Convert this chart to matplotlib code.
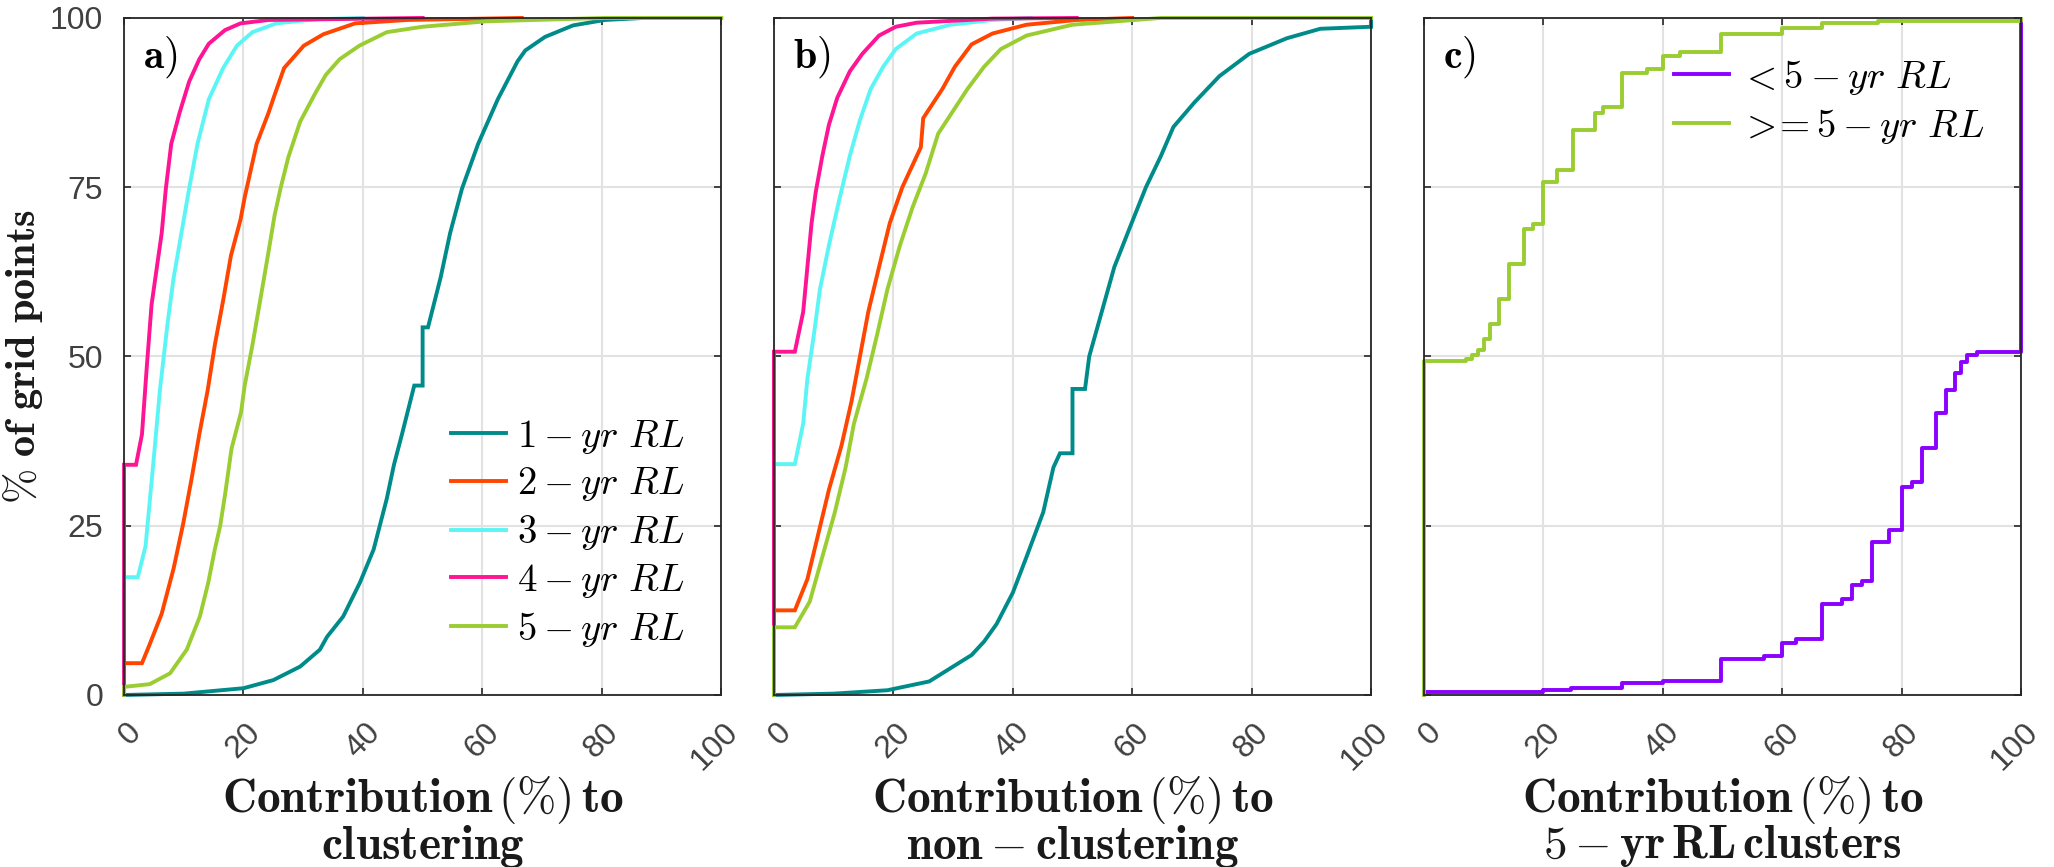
import matplotlib
matplotlib.use("Agg")
import matplotlib.pyplot as plt
import matplotlib.transforms as mtransforms

plt.rcParams['mathtext.fontset'] = 'cm'
plt.rcParams['font.family'] = ['Liberation Sans', 'DejaVu Sans']

# --- data (x = contribution %, y = % of grid points) ---
# panel a) clustering
a1_x = [0, 10, 20, 25, 29.5, 32.8, 34, 36.7, 39.5, 41.8, 44, 45.2, 46.6, 48.6, 50, 50, 50.9,
        53, 54.6, 56.6, 59.3, 62.6, 65.9, 67.2, 70.5, 75.2, 80.5, 87, 100]
a1_y = [0, 0.2, 1, 2.2, 4.2, 6.7, 8.6, 11.6, 16.6, 21.5, 29, 34, 38.7, 45.7, 45.7, 54.3, 54.3,
        61.6, 68.2, 74.8, 81.4, 88, 93.6, 95.2, 97.2, 98.9, 99.7, 100, 100]
a2_x = [0, 0, 3, 4.3, 6.3, 8.3, 9.9, 11.3, 12.6, 14, 15.2, 16.6, 17.9, 19.5, 20.2, 22.2, 24.2,
        25.2, 26.8, 30.1, 33.4, 38.7, 47.4, 66.6]
a2_y = [0, 4.7, 4.7, 7.5, 12, 18.7, 25.3, 31.9, 38.5, 45, 51.7, 58.3, 64.9, 70.2, 73.5, 81.4, 86,
        88.6, 92.6, 95.9, 97.6, 99.2, 99.7, 100]
a3_x = [0, 0, 2.3, 3.6, 4.3, 5, 6, 7.3, 8.3, 9.6, 10.9, 12.3, 14.2, 16.6, 18.9, 21.5, 25.5, 32, 40]
a3_y = [0, 17.4, 17.4, 22, 28.6, 35.2, 45, 55, 61.6, 68.2, 74.8, 81.4, 88, 92.6, 95.9, 97.9, 99.2,
        99.8, 100]
a4_x = [0, 0, 2, 3, 3.8, 4.6, 6.3, 7, 7.9, 9.3, 10.9, 12.6, 14.2, 16.9, 19.5, 24.2, 50]
a4_y = [0, 34, 34, 38.5, 48.4, 57.6, 68.2, 74.8, 81.4, 86, 90.6, 93.9, 96.2, 98.2, 99.2, 99.7, 100]
a5_x = [0, 0, 4.3, 7.7, 10.5, 12.7, 14.1, 15.2, 16.1, 16.9, 18, 19.6, 20.2, 21.5, 22.8, 24.2, 25.2,
        26.2, 27.5, 29.5, 32.1, 33.8, 36.1, 39.4, 44, 50, 60.6, 80.5, 100]
a5_y = [0, 1.2, 1.6, 3.2, 6.7, 11.6, 16.6, 21.5, 25, 29.5, 36.4, 41.8, 45.7, 51.7, 58.3, 65.5, 70.8,
        74.8, 79.4, 84.7, 89, 91.6, 93.9, 95.9, 97.9, 98.7, 99.5, 100, 100]

# panel b) non-clustering
b1_x = [0, 10, 19, 26, 33.1, 35.2, 37.3, 40, 42.3, 45.1, 46.8, 47.9, 50, 50, 52.1, 52.8, 54.9, 57,
        59.9, 62.3, 64.8, 66.9, 70.4, 74.6, 79.6, 85.9, 91.5, 100, 100]
b1_y = [0, 0.2, 0.7, 2, 5.9, 7.9, 10.5, 15.1, 20.4, 27, 33.6, 35.7, 35.7, 45.2, 45.2, 50, 56.6, 63.2,
        69.7, 75, 79.6, 83.9, 87.5, 91.4, 94.7, 97, 98.4, 98.7, 100]
b2_x = [0, 0, 3.5, 5.6, 7.4, 9.2, 11.3, 13, 14.4, 15.8, 17.6, 19.4, 21.5, 24.6, 25, 28.2, 30.3,
        33.1, 36.6, 42.3, 50.7, 60]
b2_y = [0, 12.5, 12.5, 17.1, 23.7, 30.3, 36.8, 43.4, 50, 56.6, 63.2, 69.7, 75, 80.9, 85.2, 89.5,
        92.8, 96.1, 97.7, 99, 99.7, 100]
b3_x = [0, 0, 3.5, 4.9, 5.6, 6.7, 7.7, 9.2, 10.9, 12.7, 14.4, 16.2, 18.3, 20.4, 23.9, 29.6, 36.6, 43]
b3_y = [0, 34.1, 34.1, 40.1, 46.7, 53.3, 59.9, 66.4, 73, 79.6, 84.9, 89.5, 92.8, 95.4, 97.7, 99,
        99.7, 100]
b4_x = [0, 0, 3.5, 4.9, 5.6, 6.3, 7, 8.1, 9.2, 10.6, 12.7, 14.8, 17.6, 20.4, 23.9, 36.6, 50.7]
b4_y = [0, 50.7, 50.7, 56.6, 63.2, 69.7, 74.3, 79.6, 84.2, 88.2, 92.1, 94.7, 97.4, 98.7, 99.3,
        99.9, 100]
b5_x = [0, 0, 3.5, 6, 8.1, 10.2, 12, 13.4, 15.5, 17.3, 19, 21.1, 23.2, 25.4, 27.5, 32.4, 35.2, 38,
        42.3, 50, 64.8, 100]
b5_y = [0, 10, 10, 13.8, 20.4, 27, 33.6, 40.1, 46.7, 53.3, 59.9, 66.4, 72, 77, 82.9, 89.5, 92.8,
        95.4, 97.4, 99, 100, 100]

# panel c) 5-yr RL clusters (stairs)
c1_x = [0, 20, 24.6, 33.1, 40, 49.8, 56.9, 60, 62.3, 66.7, 70, 71.7, 73.4, 75, 77.8, 80, 81.8,
        83.4, 85.7, 87.5, 88.9, 89.9, 90.9, 92.6, 100, 100]
c1_y = [0.5, 0.7, 1, 1.7, 2.1, 5.3, 5.8, 7.7, 8.3, 13.5, 14.2, 16.2, 16.8, 22.6, 24.4, 30.7, 31.4,
        36.5, 41.6, 45.1, 47.5, 49.2, 50.2, 50.7, 99.3, 99.3]
c2_x = [0, 0, 7, 8, 9, 10, 11, 12.5, 14.3, 16.7, 18.2, 20, 22.2, 24.9, 28.6, 30, 33.1, 37.4, 40,
        42.8, 49.8, 60, 66.7, 76, 100]
c2_y = [0, 49.3, 49.6, 50.2, 51, 52.6, 54.8, 58.5, 63.6, 68.8, 69.6, 75.8, 77.6, 83.4, 86, 86.8,
        91.8, 92.5, 94.4, 94.9, 97.7, 98.5, 99.2, 99.6, 99.9]

rl_labels = [r'$1-yr\ RL$', r'$2-yr\ RL$', r'$3-yr\ RL$', r'$4-yr\ RL$', r'$5-yr\ RL$']
rl_colors = ['#008b8b', '#ff4500', '#5cf5f5', '#ff1493', '#9acd32']
c_labels = [r'$<5-yr\ RL$', r'$>\!\!=5-yr\ RL$']
c_colors = ['#8b00ff', '#9acd32']

xlabels = [r'$\mathbf{Contribution}\,(\%)\,\mathbf{to}$' + '\n' + r'$\mathbf{clustering}$',
           r'$\mathbf{Contribution}\,(\%)\,\mathbf{to}$' + '\n' + r'$\mathbf{non-clustering}$',
           r'$\mathbf{Contribution}\,(\%)\,\mathbf{to}$' + '\n' + r'$\mathbf{5-yr\,RL\,clusters}$']
panel_tags = [r'$\mathbf{a})$', r'$\mathbf{b})$', r'$\mathbf{c})$']

# --- figure ---
fig = plt.figure(figsize=(20.54, 8.67), dpi=100)
lefts = [0.0604, 0.3768, 0.6933]
axs = [fig.add_axes([l, 0.1984, 0.2907, 0.7809]) for l in lefts]

lw = 2.8
series_a = [(a1_x, a1_y), (a2_x, a2_y), (a3_x, a3_y), (a4_x, a4_y), (a5_x, a5_y)]
series_b = [(b1_x, b1_y), (b2_x, b2_y), (b3_x, b3_y), (b4_x, b4_y), (b5_x, b5_y)]
for (xs, ys), col, lab in zip(series_a, rl_colors, rl_labels):
    axs[0].plot(xs, ys, color=col, lw=lw, label=lab, clip_on=False, solid_joinstyle='miter')
for (xs, ys), col, lab in zip(series_b, rl_colors, rl_labels):
    axs[1].plot(xs, ys, color=col, lw=lw, label=lab, clip_on=False, solid_joinstyle='miter')
for (xs, ys), col, lab in zip([(c1_x, c1_y), (c2_x, c2_y)], c_colors, c_labels):
    axs[2].plot(xs, ys, color=col, lw=lw, label=lab, drawstyle='steps-post', clip_on=False)

shift = mtransforms.ScaledTranslation(23 / 100, 0, fig.dpi_scale_trans)
for i, ax in enumerate(axs):
    ax.set_xlim(0, 100)
    ax.set_ylim(0, 100)
    ax.set_xticks(range(0, 101, 20))
    ax.set_yticks(range(0, 101, 25))
    ax.grid(True, color='#e2e2e2', lw=1.5)
    ax.set_axisbelow(True)
    for sp in ax.spines.values():
        sp.set_color('#262626')
        sp.set_linewidth(1.3)
    ax.tick_params(direction='in', length=5, width=1.2, top=True, right=True,
                   colors='#262626', labelcolor='#404040', labelsize=23)
    ax.tick_params(axis='x', pad=16)
    ax.tick_params(axis='y', pad=15)
    for lbl in ax.get_xticklabels():
        lbl.set_rotation(45)
        lbl.set_ha('right')
        lbl.set_va('top')
        lbl.set_transform(lbl.get_transform() + shift)
    if i > 0:
        ax.tick_params(labelleft=False)
    ax.set_xlabel(xlabels[i], fontsize=34, linespacing=0.92, color='#1a1a1a')
    ax.xaxis.set_label_coords(0.5, -0.115)
    ax.text(0.032, 0.926, panel_tags[i], transform=ax.transAxes, fontsize=30,
            va='baseline', ha='left')

axs[0].set_ylabel(r'$\%\ \mathbf{of\ grid\ points}$', fontsize=30.5, color='#1a1a1a')
axs[0].yaxis.set_label_coords(-0.133, 0.5)

axs[0].legend(loc='center left', bbox_to_anchor=(0.548, 0.239), frameon=False, fontsize=28,
              handlelength=1.4, handletextpad=0.3, labelspacing=0.25, borderpad=0, borderaxespad=0)
axs[2].legend(loc='center left', bbox_to_anchor=(0.419, 0.876), frameon=False, fontsize=28,
              handlelength=1.4, handletextpad=0.3, labelspacing=0.25, borderpad=0, borderaxespad=0)

fig.savefig('out.png', dpi=100)
